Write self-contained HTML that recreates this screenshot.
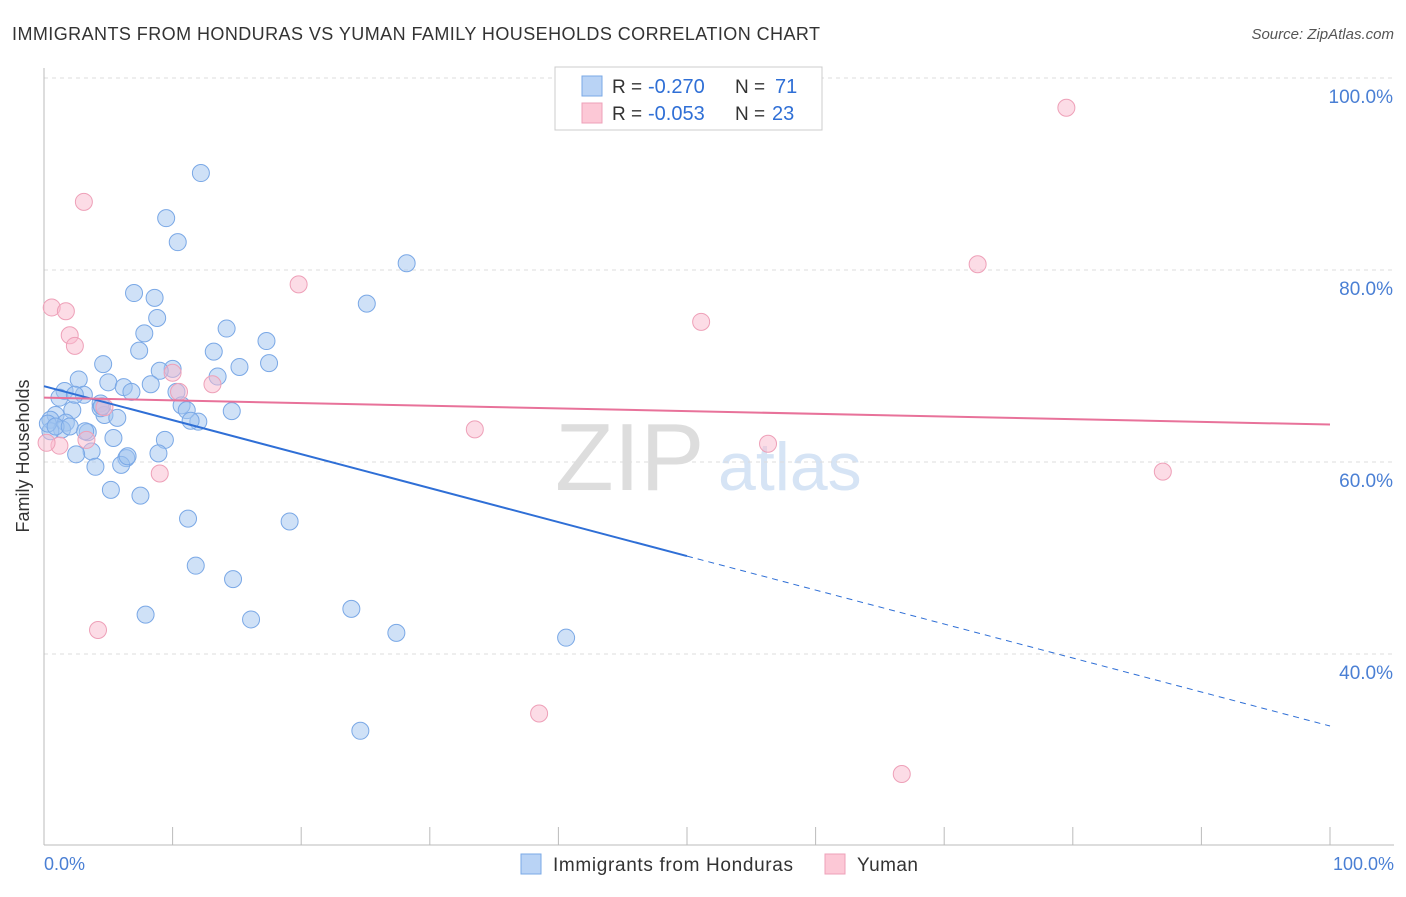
<!DOCTYPE html>
<html><head><meta charset="utf-8"><style>
body{margin:0;background:#fff;font-family:"Liberation Sans",sans-serif}
svg text{font-family:"Liberation Sans",sans-serif}
</style></head><body>
<svg id="chart" width="1406" height="892" xmlns="http://www.w3.org/2000/svg">
<text x="12" y="40" font-size="18" fill="#333" textLength="808">IMMIGRANTS FROM HONDURAS VS YUMAN FAMILY HOUSEHOLDS CORRELATION CHART</text>
<text x="1394" y="39" font-size="15" fill="#555" font-style="italic" text-anchor="end">Source: ZipAtlas.com</text>
<text x="555" y="490" font-size="96" fill="#ddd" font-family="Liberation Serif">ZIP</text>
<text x="718" y="490" font-size="68" fill="#d6e4f5">atlas</text>
<g id="grid"></g>
<g id="axes"></g>
<g id="pts"></g>
<g id="trends"></g>
<text x="29" y="456" font-size="18" fill="#333" text-anchor="middle" transform="rotate(-90 29 456)">Family Households</text>
<text x="44" y="870" font-size="18" fill="#4a7fd4">0.0%</text>
<text x="1394" y="870" font-size="18" fill="#4a7fd4" text-anchor="end">100.0%</text>
<g>
<rect x="555" y="67" width="267" height="63" fill="#fff" stroke="#ccc"/>
<rect x="582" y="76" width="20" height="20" fill="#b9d3f5" stroke="#7aa8e6"/>
<rect x="582" y="103" width="20" height="20" fill="#fcc8d6" stroke="#eea0b8"/>
<text x="612" y="93" font-size="19" fill="#333">R =</text>
<text x="648" y="93" font-size="20" fill="#2f6fd6">-0.270</text>
<text x="735" y="93" font-size="19" fill="#333">N =</text>
<text x="775" y="93" font-size="20" fill="#2f6fd6">71</text>
<text x="612" y="120" font-size="19" fill="#333">R =</text>
<text x="648" y="120" font-size="20" fill="#2f6fd6">-0.053</text>
<text x="735" y="120" font-size="19" fill="#333">N =</text>
<text x="772" y="120" font-size="20" fill="#2f6fd6">23</text>
</g>
<g>
<rect x="521" y="854" width="20" height="20" fill="#b9d3f5" stroke="#7aa8e6"/>
<text x="553" y="871" font-size="19" fill="#333" textLength="240">Immigrants from Honduras</text>
<rect x="825" y="854" width="20" height="20" fill="#fcc8d6" stroke="#eea0b8"/>
<text x="857" y="871" font-size="19" fill="#333" textLength="61">Yuman</text>
</g>
</svg>
<script>
const yTicks=[40,60,80,100];
const yTickLabels=["40.0%","60.0%","80.0%","100.0%"];
const blueX=[12.2,9.5,10.4,28.2,7.0,8.6,25.1,8.8,7.8,14.2,17.3,7.4,13.2,4.6,17.5,15.2,10.0,9.0,13.5,2.7,5.0,8.3,6.2,6.8,1.6,3.1,10.3,1.2,4.4,10.7,11.1,14.6,2.2,4.7,5.7,12.0,11.4,0.9,0.5,1.7,1.4,0.5,3.4,5.4,9.4,3.7,2.5,8.9,6.4,6.0,4.0,5.2,7.5,11.2,19.1,11.8,14.7,23.9,7.9,16.1,27.4,40.6,24.6,0.3,0.9,2.0,3.2,6.5,4.4,4.5,2.4];
const blueY=[90.1,85.4,82.9,80.7,77.6,77.1,76.5,75.0,73.4,73.9,72.6,71.6,71.5,70.2,70.3,69.9,69.7,69.5,68.9,68.6,68.3,68.1,67.8,67.3,67.4,67.0,67.3,66.7,66.1,65.9,65.4,65.3,65.4,64.9,64.6,64.2,64.3,64.9,64.4,64.1,63.4,63.2,63.1,62.5,62.3,61.1,60.8,60.9,60.4,59.7,59.5,57.1,56.5,54.1,53.8,49.2,47.8,44.7,44.1,43.6,42.2,41.7,32.0,64.0,63.7,63.7,63.2,60.6,65.6,65.8,67.0];
const pinkX=[79.5,3.1,19.8,72.6,0.6,1.7,51.1,2.0,2.4,10.0,13.1,10.5,4.7,33.5,56.3,3.3,1.2,0.2,9.0,87.0,4.2,38.5,66.7];
const pinkY=[96.9,87.1,78.5,80.6,76.1,75.7,74.6,73.2,72.1,69.3,68.1,67.3,65.7,63.4,61.9,62.3,61.7,62.0,58.8,59.0,42.5,33.8,27.5];
const blueTrend=[[0,67.9],[50,50.2],[100,32.5]];
const pinkTrend=[[0,66.7],[100,63.9]];
const L=44,R=1330,T=78,B=845;
const sx=v=>L+(R-L)*v/100;
const sy=v=>T+(100-v)*9.6;
const NS="http://www.w3.org/2000/svg";
function mk(t,a,p){const e=document.createElementNS(NS,t);for(const k in a)e.setAttribute(k,a[k]);p.appendChild(e);return e;}
const grid=document.getElementById('grid'),axes=document.getElementById('axes'),pts=document.getElementById('pts'),tr=document.getElementById('trends');
yTicks.forEach((v,i)=>{
 const g=mk('line',{x1:L,x2:1394,y1:sy(v),y2:sy(v),stroke:'#ddd','stroke-dasharray':'4 4'},grid);
 
 
 const t=mk('text',{x:1393,y:sy(v)+25,'font-size':19,fill:'#4a7fd4','text-anchor':'end'},grid);
 t.textContent=yTickLabels[i];
 
 
});
mk('line',{x1:L,x2:L,y1:68,y2:B,stroke:'#bbb'},axes);
mk('line',{x1:L,x2:1394,y1:B,y2:B,stroke:'#bbb'},axes);
for(let i=0;i<=10;i++){const tk=mk('line',{x1:sx(i*10),x2:sx(i*10),y1:B,y2:B-18,stroke:'#bbb'},axes);
 
 }
blueX.forEach((x,i)=>{const c=mk('circle',{cx:sx(x),cy:sy(blueY[i]),r:8.5,fill:'rgba(160,196,240,0.5)',stroke:'#7aa8e6','stroke-width':1},pts);
 
 });
pinkX.forEach((x,i)=>{const c=mk('circle',{cx:sx(x),cy:sy(pinkY[i]),r:8.5,fill:'rgba(250,185,205,0.5)',stroke:'#eea0b8','stroke-width':1},pts);
 
 });
const b1=mk('line',{x1:sx(blueTrend[0][0]),y1:sy(blueTrend[0][1]),x2:sx(blueTrend[1][0]),y2:sy(blueTrend[1][1]),stroke:'#2f6fd6','stroke-width':2},tr);


const b2=mk('line',{x1:sx(blueTrend[1][0]),y1:sy(blueTrend[1][1]),x2:sx(blueTrend[2][0]),y2:sy(blueTrend[2][1]),stroke:'#2f6fd6','stroke-width':1,'stroke-dasharray':'6 5'},tr);


const p1=mk('line',{x1:sx(pinkTrend[0][0]),y1:sy(pinkTrend[0][1]),x2:sx(pinkTrend[1][0]),y2:sy(pinkTrend[1][1]),stroke:'#e8729a','stroke-width':2},tr);


</script>
</body></html>
